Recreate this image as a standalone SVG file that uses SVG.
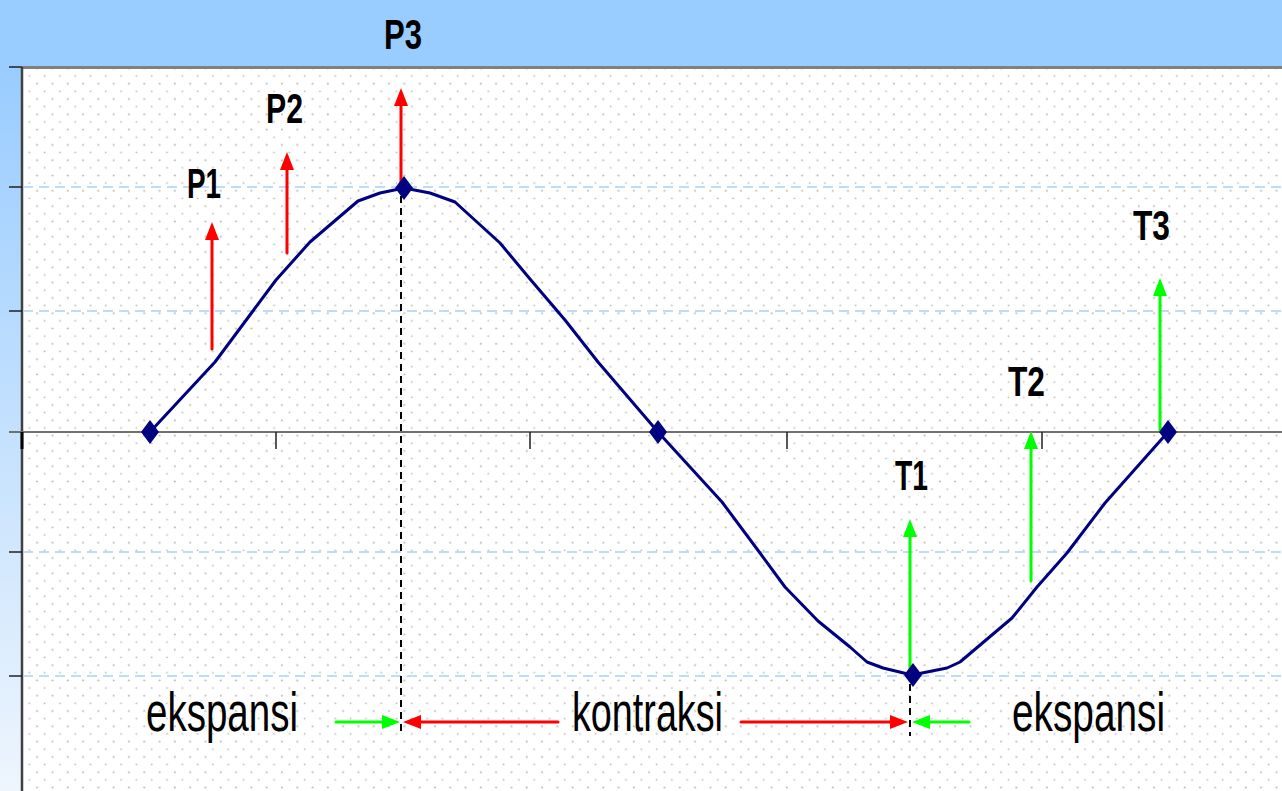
<svg xmlns="http://www.w3.org/2000/svg" width="1282" height="791" viewBox="0 0 1282 791">
<style>
.lbl{font-family:"Liberation Sans",Arial,sans-serif;font-weight:bold;font-size:43px;fill:#000}
.word{font-family:"Liberation Sans",Arial,sans-serif;font-size:56px;fill:#000}
.grid{stroke:#A8D0FA;stroke-width:1.5;stroke-dasharray:10 6;fill:none}
.tick{stroke:#202020;stroke-width:1.5}
.red{stroke:#FF0000;stroke-width:3;fill:none;stroke-linecap:round}
.green{stroke:#00FF00;stroke-width:3;fill:none;stroke-linecap:round}
.dash{stroke:#000;stroke-width:2;stroke-dasharray:7 5;fill:none}
.node{fill:#000080}
</style>
<defs>
<linearGradient id="bg" x1="0" y1="0" x2="0" y2="1">
<stop offset="0" stop-color="#99CCFF"/>
<stop offset="0.08" stop-color="#99CCFF"/>
<stop offset="1" stop-color="#EEF5FD"/>
</linearGradient>
<pattern id="dots" patternUnits="userSpaceOnUse" x="22" y="67" width="15.3" height="15.3">
<rect width="15.3" height="15.3" fill="#FFFFFF"/>
<circle cx="7.3" cy="9" r="0.9" fill="#BBBBBB"/>
<circle cx="15" cy="1.4" r="0.9" fill="#BBBBBB"/>
<circle cx="0" cy="1.4" r="0.9" fill="#BBBBBB"/>
</pattern>
<marker id="ahR" markerUnits="userSpaceOnUse" markerWidth="20" markerHeight="14" refX="0" refY="7" orient="auto" overflow="visible">
<path d="M0,0 L18,7 L0,14 z" fill="#FF0000"/>
</marker>
<marker id="ahG" markerUnits="userSpaceOnUse" markerWidth="20" markerHeight="14" refX="0" refY="7" orient="auto" overflow="visible">
<path d="M0,0 L18,7 L0,14 z" fill="#00FF00"/>
</marker>
</defs>

<!-- background -->
<rect x="0" y="0" width="1282" height="791" fill="url(#bg)"/>
<rect x="0" y="0" width="1282" height="67" fill="#99CCFF"/>
<!-- plot area -->
<rect x="22" y="67" width="1260" height="724" fill="url(#dots)"/>
<line x1="22" y1="67.5" x2="1282" y2="67.5" stroke="#808080" stroke-width="3"/>
<line x1="22" y1="67" x2="22" y2="791" stroke="#404040" stroke-width="2.5"/>

<!-- gridlines -->
<g id="grid">
<line class="grid" x1="23" y1="187" x2="1282" y2="187"/>
<line class="grid" x1="23" y1="311" x2="1282" y2="311"/>
<line class="grid" x1="23" y1="552" x2="1282" y2="552"/>
<line class="grid" x1="23" y1="676" x2="1282" y2="676"/>
</g>

<!-- axes and ticks -->
<g id="axes">
<line x1="9" y1="432" x2="1282" y2="432" stroke="#707070" stroke-width="2"/>
<line class="tick" x1="9" y1="67" x2="22" y2="67"/>
<line class="tick" x1="9" y1="187" x2="22" y2="187"/>
<line class="tick" x1="9" y1="311" x2="22" y2="311"/>
<line class="tick" x1="9" y1="552" x2="22" y2="552"/>
<line class="tick" x1="9" y1="676" x2="22" y2="676"/>
<line x1="22" y1="432" x2="22" y2="449" stroke="#000" stroke-width="3"/>
<line class="tick" x1="276" y1="432" x2="276" y2="449"/>
<line class="tick" x1="530" y1="432" x2="530" y2="449"/>
<line class="tick" x1="787" y1="432" x2="787" y2="449"/>
<line class="tick" x1="1042" y1="432" x2="1042" y2="449"/>
</g>

<!-- connectors -->
<g id="connectors">
<polyline fill="none" stroke="#000080" stroke-width="3" stroke-linejoin="round" points="150,432 215,362 276,280 310,242 358,201 380,193 404,188 430,193 455,202 500,243 530,279 565,320 598,362 658,432 722,502 760,553 785,587 818,621 850,647 867,662 883,668 912,675 947,668 960,662 1012,618 1037,587 1067,553 1105,503 1168,432"/>
<line class="dash" x1="401" y1="196" x2="401" y2="736"/>
<line class="dash" x1="910" y1="684" x2="910" y2="736"/>
<line class="red" x1="212" y1="349" x2="212" y2="240" marker-end="url(#ahR)"/>
<line class="red" x1="287" y1="253" x2="287" y2="170" marker-end="url(#ahR)"/>
<line class="red" x1="401" y1="193" x2="401" y2="106" marker-end="url(#ahR)"/>
<line class="green" x1="910" y1="672" x2="910" y2="537" marker-end="url(#ahG)"/>
<line class="green" x1="1031" y1="581" x2="1031" y2="449" marker-end="url(#ahG)"/>
<line class="green" x1="1160" y1="430" x2="1160" y2="296" marker-end="url(#ahG)"/>
<line class="green" x1="336" y1="722" x2="382" y2="722" marker-end="url(#ahG)"/>
<line class="red" x1="558" y1="722" x2="421" y2="722" marker-end="url(#ahR)"/>
<line class="red" x1="741" y1="722" x2="890" y2="722" marker-end="url(#ahR)"/>
<line class="green" x1="969" y1="722" x2="930" y2="722" marker-end="url(#ahG)"/>
</g>

<!-- nodes -->
<g id="n1"><path class="node" d="M150,420 L159,432 L150,444 L141,432 z"/></g>
<g id="n2"><path class="node" d="M404,176 L413,188 L404,200 L395,188 z"/></g>
<g id="n3"><path class="node" d="M658,420 L667,432 L658,444 L649,432 z"/></g>
<g id="n4"><path class="node" d="M913,663 L922,675 L913,687 L904,675 z"/></g>
<g id="n5"><path class="node" d="M1168,420 L1177,432 L1168,444 L1159,432 z"/></g>

<!-- labels -->
<g id="labels">
<text class="lbl" x="187" y="198" textLength="34" lengthAdjust="spacingAndGlyphs">P1</text>
<text class="lbl" x="266" y="123" textLength="37" lengthAdjust="spacingAndGlyphs">P2</text>
<text class="lbl" x="384" y="49" textLength="38" lengthAdjust="spacingAndGlyphs">P3</text>
<text class="lbl" x="895" y="490" textLength="33" lengthAdjust="spacingAndGlyphs">T1</text>
<text class="lbl" x="1008" y="396" textLength="37" lengthAdjust="spacingAndGlyphs">T2</text>
<text class="lbl" x="1133" y="240" textLength="37" lengthAdjust="spacingAndGlyphs">T3</text>
<text class="word" x="146" y="731" textLength="152" lengthAdjust="spacingAndGlyphs">ekspansi</text>
<text class="word" x="572" y="731" textLength="151" lengthAdjust="spacingAndGlyphs">kontraksi</text>
<text class="word" x="1012" y="731" textLength="153" lengthAdjust="spacingAndGlyphs">ekspansi</text>
</g>
</svg>
